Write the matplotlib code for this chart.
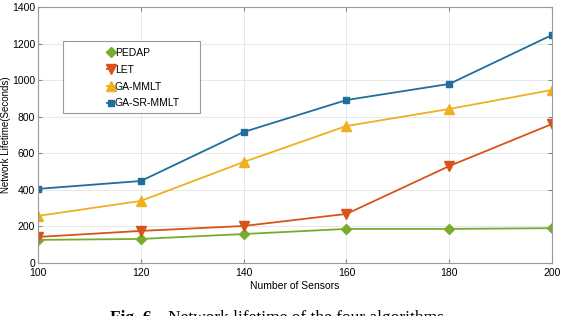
import numpy as np
import matplotlib.pyplot as plt
from matplotlib.patches import Rectangle

# Values
sensors = [100, 120, 140, 160, 180, 200]
pedap = [126, 131, 158, 186, 186, 190]
let = [142, 175, 202, 268, 530, 760]
ga_mmlt = [257, 339, 552, 749, 842, 946]
ga_sr_mmlt = [405, 448, 716, 891, 979, 1247]

plt.rcParams['font.family'] = ['Liberation Sans', 'DejaVu Sans']

fig = plt.figure(figsize=(5.64, 3.16), dpi=100)
ax = fig.add_axes([0.0674, 0.168, 0.9116, 0.810])

ax.plot(sensors, pedap, color='#77AC30', marker='D', markersize=5, lw=1.3, label='PEDAP')
ax.plot(sensors, let, color='#D95319', marker='v', markersize=7, lw=1.3, label='LET')
ax.plot(sensors, ga_mmlt, color='#EDB120', marker='^', markersize=7, lw=1.3, label='GA-MMLT')
ax.plot(sensors, ga_sr_mmlt, color='#1F6E9C', marker='s', markersize=5, lw=1.3, label='GA-SR-MMLT')

ax.set_xlim(100, 200)
ax.set_ylim(0, 1400)
ax.set_xticks(sensors)
ax.set_yticks(np.arange(0, 1401, 200))
ax.grid(True, color='#e4e4e4', lw=0.6)
ax.set_axisbelow(True)
ax.tick_params(direction='in', labelsize=7.5, length=3, top=True, right=True,
               color='#888888')
ax.tick_params(axis='x', pad=4)
ax.tick_params(axis='y', pad=2)
for s in ax.spines.values():
    s.set_color('#999999')
    s.set_linewidth(0.8)
ax.set_xlabel('Number of Sensors', fontsize=7.5, labelpad=2)
ax.set_ylabel('Network Lifetime(Seconds)', fontsize=7, labelpad=1)

# legend box
ax.add_patch(Rectangle((0.049, 0.586), 0.266, 0.281, transform=ax.transAxes,
                       facecolor='white', edgecolor='#999999', lw=0.8, zorder=4))
leg = ax.legend(loc='upper left', bbox_to_anchor=(0.125, 0.86), frameon=False,
                fontsize=7.5, handlelength=0.6, handletextpad=0.1, labelspacing=0.65,
                borderpad=0)
leg.set_zorder(5)

fig.text(110 / 564, 1 - 310 / 316, 'Fig. 6.', fontsize=12.5, fontweight='bold',
         family='Liberation Serif', va='top', ha='left')
fig.text(168 / 564, 1 - 310 / 316, 'Network lifetime of the four algorithms', fontsize=12.5,
         family='Liberation Serif', va='top', ha='left')

fig.savefig('out.png', dpi=100)
